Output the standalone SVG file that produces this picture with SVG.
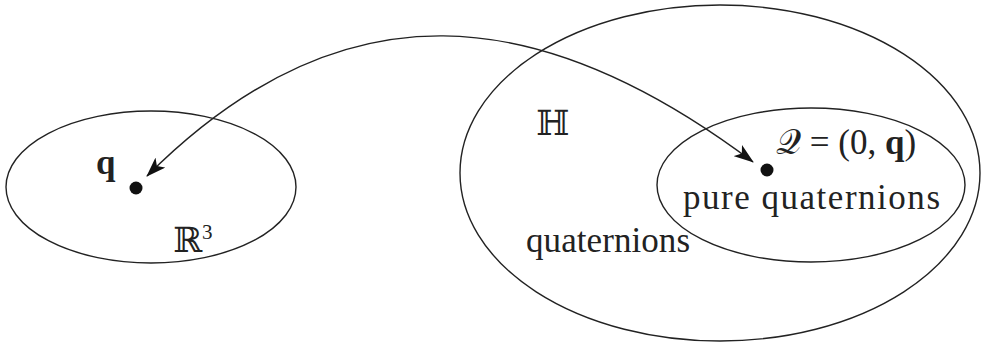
<svg xmlns="http://www.w3.org/2000/svg" width="986" height="347" viewBox="0 0 986 347">
<style>
.sh{fill:none;stroke:#222;stroke-width:1.4}
.t{font-family:"Liberation Serif","DejaVu Serif",serif;font-size:35px;fill:#222}
.dot{fill:#111}
</style>
<defs>
<marker id="ah" viewBox="0 0 20 14" refX="19" refY="7" markerWidth="20" markerHeight="14" markerUnits="userSpaceOnUse" orient="auto-start-reverse">
<path d="M0,0 L20,7 L0,14 L5,7 Z" fill="#111"/>
</marker>
</defs>
<rect width="986" height="347" fill="#fff"/>
<g id="r3">
<ellipse class="sh" cx="151" cy="187" rx="145" ry="76"/>
<circle class="dot" cx="136" cy="188" r="6.5"/>
<text class="t" x="96" y="174" font-size="32" font-weight="bold">q</text>
<text class="t" x="173" y="252" font-size="31">ℝ<tspan font-size="21" dy="-13">3</tspan></text>
</g>
<g id="H">
<ellipse class="sh" cx="720" cy="173" rx="260" ry="168"/>
<text class="t" x="536" y="135" font-size="31">ℍ</text>
<text class="t" x="526" y="252" textLength="164">quaternions</text>
</g>
<g id="pure">
<ellipse class="sh" cx="811" cy="185" rx="154" ry="77"/>
<circle class="dot" cx="767" cy="170" r="6.5"/>
<text class="t" x="776" y="154">𝒬 = (0, <tspan font-weight="bold">q</tspan>)</text>
<text class="t" x="683" y="209" textLength="257">pure quaternions</text>
</g>
<g id="connectors">
<path class="sh" d="M147,176 C342,-19 540,2 753,162" marker-start="url(#ah)" marker-end="url(#ah)"/>
</g>
</svg>
